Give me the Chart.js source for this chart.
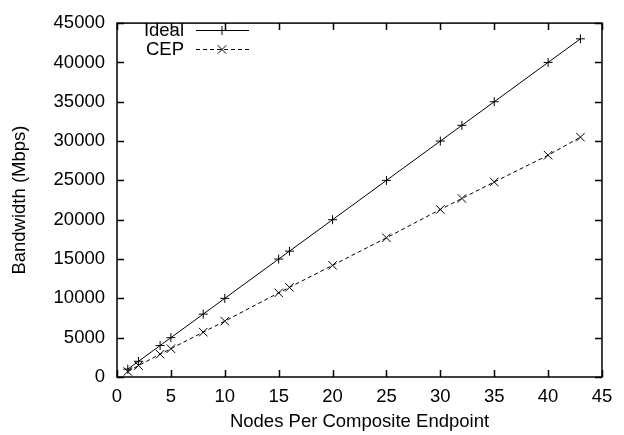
<!DOCTYPE html>
<html><head><meta charset="utf-8">
<script src="https://cdn.jsdelivr.net/npm/chart.js@4/dist/chart.umd.min.js"></script>
<style>html,body{margin:0;padding:0;background:#fff}#wrap{width:624px;height:435px}</style>
</head><body><div id="wrap"><canvas id="c" width="624" height="435"></canvas></div>
<script>
const nodes = [1, 2, 4, 5, 8, 10, 15, 16, 20, 25, 30, 32, 35, 40, 43];
const ideal = [1000, 2000, 4000, 5000, 8000, 10000, 15000, 16000, 20000, 25000, 30000, 32000, 35000, 40000, 43000];
const cep = [700, 1450, 2900, 3600, 5700, 7100, 10700, 11400, 14200, 17700, 21300, 22700, 24800, 28200, 30500];
const xTicks = [0, 5, 10, 15, 20, 25, 30, 35, 40, 45];
const yTicks = [0, 5000, 10000, 15000, 20000, 25000, 30000, 35000, 40000, 45000];
const seriesNames = ['Ideal', 'CEP'];
const xTitle = 'Nodes Per Composite Endpoint';
const yTitle = 'Bandwidth (Mbps)';

const FONT = {family: '"Liberation Sans", Arial, sans-serif', size: 18.5};

const frameAndLegend = {
  id: 'frameAndLegend',
  afterDraw(chart) {
    const ctx = chart.ctx, a = chart.chartArea;
    const xs = chart.scales.x, ys = chart.scales.y;
    ctx.save();
    ctx.strokeStyle = '#000';
    ctx.lineWidth = 1.5;
    ctx.strokeRect(a.left, a.top, a.right - a.left, a.bottom - a.top);
    const tl = 7;
    ctx.beginPath();
    xTicks.forEach(v => {
      const px = Math.round(xs.getPixelForValue(v)) + 0.5;
      ctx.moveTo(px, a.bottom); ctx.lineTo(px, a.bottom - tl);
      ctx.moveTo(px, a.top); ctx.lineTo(px, a.top + tl);
    });
    yTicks.forEach(v => {
      const py = Math.round(ys.getPixelForValue(v)) + 0.5;
      ctx.moveTo(a.left, py); ctx.lineTo(a.left + tl, py);
      ctx.moveTo(a.right, py); ctx.lineTo(a.right - tl, py);
    });
    ctx.stroke();
    ctx.font = FONT.size + 'px ' + FONT.family;
    ctx.fillStyle = '#000';
    ctx.textAlign = 'right';
    ctx.textBaseline = 'middle';
    const rows = [{y: 30, dash: [], style: 'cross', r: 4.5}, {y: 49, dash: [4, 3], style: 'crossRot', r: 6}];
    rows.forEach((row, i) => {
      ctx.fillText(seriesNames[i], 184, row.y + 1);
      ctx.lineWidth = 1;
      ctx.setLineDash(row.dash);
      ctx.beginPath();
      ctx.moveTo(196, row.y + 0.5); ctx.lineTo(249, row.y + 0.5);
      ctx.stroke();
      ctx.setLineDash([]);
      Chart.helpers.drawPoint(ctx, {pointStyle: row.style, radius: row.r, borderWidth: 1, rotation: 0}, 222, row.y + 0.5);
    });
    ctx.restore();
  }
};

new Chart(document.getElementById('c'), {
  type: 'line',
  data: {
    datasets: [
      {label: seriesNames[0], data: nodes.map((x, i) => ({x, y: ideal[i]})), borderColor: '#000', borderWidth: 1,
       pointStyle: 'cross', pointRadius: 4.5, pointBorderColor: '#000', pointBorderWidth: 1, fill: false, tension: 0},
      {label: seriesNames[1], data: nodes.map((x, i) => ({x, y: cep[i]})), borderColor: '#000', borderWidth: 1, borderDash: [4, 3],
       pointStyle: 'crossRot', pointRadius: 6, pointBorderColor: '#000', pointBorderWidth: 1, fill: false, tension: 0}
    ]
  },
  options: {
    responsive: false,
    animation: false,
    devicePixelRatio: 1,
    layout: {padding: {top: 13, right: 22, left: 0, bottom: 0}},
    plugins: {legend: {display: false}, tooltip: {enabled: false}},
    scales: {
      x: {
        type: 'linear', min: 0, max: 45,
        afterBuildTicks: s => { s.ticks = xTicks.map(v => ({value: v})); },
        afterFit: s => { s.height = 58; },
        grid: {display: false, drawTicks: false},
        border: {display: false},
        ticks: {color: '#000', font: FONT, padding: 9, maxRotation: 0},
        title: {display: true, text: xTitle, color: '#000', font: FONT, padding: {top: 0, bottom: 2}}
      },
      y: {
        type: 'linear', min: 0, max: 45000,
        afterBuildTicks: s => { s.ticks = yTicks.map(v => ({value: v})); },
        afterFit: s => { s.width = 117; },
        grid: {display: false, drawTicks: false},
        border: {display: false},
        ticks: {color: '#000', font: FONT, padding: 12, callback: v => String(v)},
        title: {display: true, text: yTitle, color: '#000', font: FONT, padding: {top: 9, bottom: 0}}
      }
    }
  },
  plugins: [frameAndLegend]
});
</script></body></html>
